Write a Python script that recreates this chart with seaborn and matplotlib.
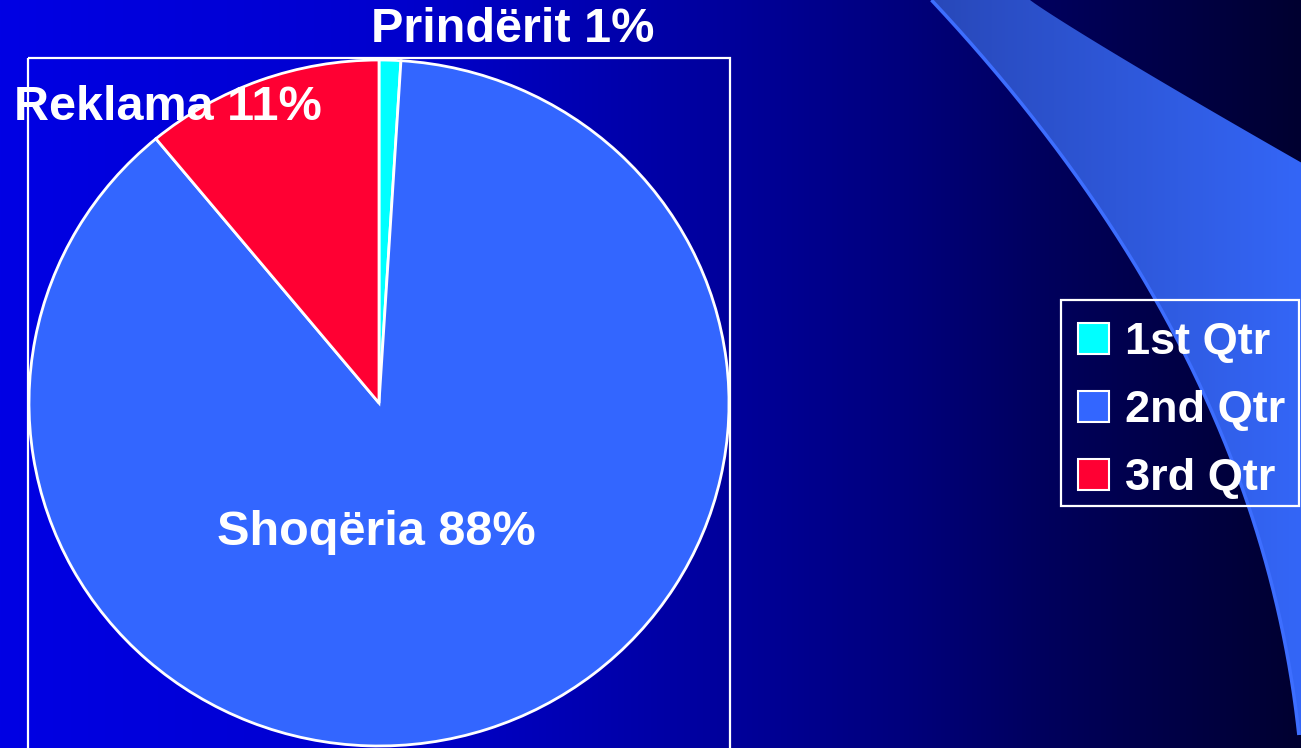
import numpy as np
import matplotlib
matplotlib.use("Agg")
import matplotlib.pyplot as plt
from matplotlib.patches import Polygon, Rectangle, Patch
import seaborn as sns

# ---- data ----
categories = ["1st Qtr", "2nd Qtr", "3rd Qtr"]
slice_names = ["Prindërit", "Shoqëria", "Reklama"]
values = [1, 88, 11]
hex_colors = ["#00FFFF", "#3366FF", "#FF0033"]

sns.set_theme(style="white")
plt.rcParams["font.family"] = ["Liberation Sans", "DejaVu Sans"]
plt.rcParams["font.weight"] = "bold"

palette = sns.color_palette(hex_colors)

W, H = 1301, 748
fig = plt.figure(figsize=(W / 100, H / 100), dpi=100)

# ---- background ----
bg = fig.add_axes([0, 0, 1, 1])
bg.axis("off")
xs = np.linspace(0, W, 600)
stops_x = [0, 400, 730, 900, 1050, 1301]
stops_b = [228, 205, 155, 125, 92, 48]
blue = np.interp(xs, stops_x, stops_b) / 255.0
grad = np.zeros((2, len(xs), 3))
grad[:, :, 2] = blue
bg.imshow(grad, extent=[0, W, H, 0], aspect="auto", zorder=0)

# decorative swoosh with a smooth left edge
ey_pts = np.array([0, 77, 167, 233, 298, 400, 500, 600, 700, 735])
ex_pts = np.array([932, 1000, 1067, 1117, 1153, 1210, 1247, 1273, 1293, 1301])
coef = np.polyfit(ey_pts, ex_pts, 3)
ey = np.linspace(0, 735, 200)
ex = np.polyval(coef, ey)
top_y = np.linspace(163, 0, 50)
top_x = 1030 + (1302 - 1030) * (top_y / 163) ** 1.05
sw_verts = list(zip(ex, ey)) + [(1302, 735), (1302, 163)] + list(zip(top_x, top_y))
sw = Polygon(sw_verts, closed=True, facecolor="none", edgecolor="none")
bg.add_patch(sw)
sx = np.linspace(0, 1, 300)
sgrad = np.zeros((2, 300, 3))
sgrad[:, :, 0] = (40 + 12 * sx) / 255
sgrad[:, :, 1] = (72 + 30 * sx) / 255
sgrad[:, :, 2] = (185 + 62 * sx) / 255
im = bg.imshow(sgrad, extent=[930, 1302, H, 0], aspect="auto", zorder=1)
im.set_clip_path(sw)
bg.plot(ex, ey, color="#3D6EFF", lw=2.5, zorder=2, solid_capstyle="butt")

# chart frame and legend frame
bg.add_patch(Rectangle((28, 58), 702, 720, fill=False, edgecolor="white", lw=1.6, zorder=3))
bg.add_patch(Rectangle((1061, 300), 238, 206, fill=False, edgecolor="white", lw=1.6, zorder=3))
bg.set_xlim(0, W)
bg.set_ylim(H, 0)

# ---- pie ----
cx, cy, rx, ry = 379, 403, 350, 343
pax = fig.add_axes([(cx - rx) / W, (H - cy - ry) / H, 2 * rx / W, 2 * ry / H])
pax.pie(values, colors=palette, startangle=90, counterclock=False,
        wedgeprops=dict(edgecolor="white", linewidth=2))
pax.set_aspect("auto")
pax.set_xlim(-1.0, 1.0)
pax.set_ylim(-1.0, 1.0)
pax.axis("off")
pax.patch.set_alpha(0)

# slice labels
label_pos = [(513, 42), (376, 545), (168, 120)]
for name, v, (lx, ly) in zip(slice_names, values, label_pos):
    fig.text(lx / W, 1 - ly / H, f"{name} {v}%", color="white", fontsize=35,
             fontweight="bold", ha="center", va="baseline")

# ---- legend ----
handles = [Patch(facecolor=c, edgecolor="white", linewidth=1.5) for c in palette]
leg = fig.legend(handles, categories, loc="upper left",
                 bbox_to_anchor=(1078 / W, 1 - 322 / H), bbox_transform=fig.transFigure,
                 frameon=False, fontsize=32.5, labelcolor="white",
                 handlelength=0.68, handleheight=0.68, handletextpad=0.36,
                 labelspacing=0.6, borderpad=0.0, borderaxespad=0)
for t in leg.get_texts():
    t.set_fontweight("bold")

fig.savefig("out.png", dpi=100)
